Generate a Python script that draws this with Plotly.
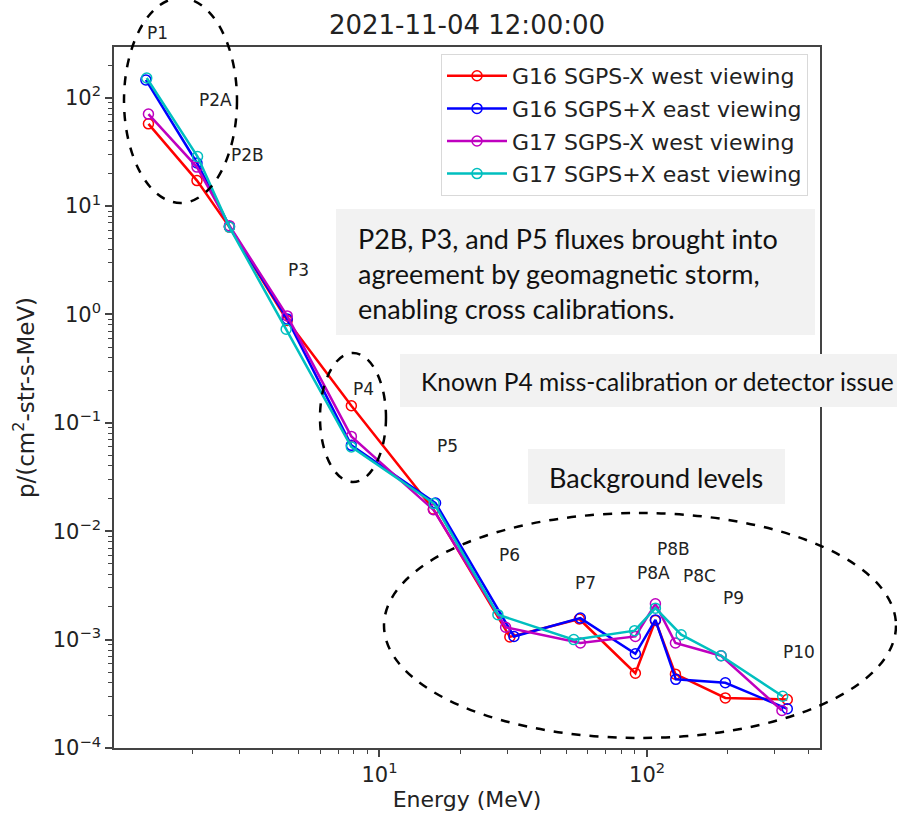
import plotly.graph_objects as go

# ---------------- data ----------------
series_names = [
    "G16 SGPS-X west viewing",
    "G16 SGPS+X east viewing",
    "G17 SGPS-X west viewing",
    "G17 SGPS+X east viewing",
]
series_colors = ["#ff0000", "#0000ff", "#bf00bf", "#00bfbf"]

g16_west_energy = [1.37, 2.08, 2.75, 4.52, 7.85, 15.9, 30.7, 55.8, 90.4, 107.4, 127.6, 196, 334]
g16_west_flux = [57.4, 17.2, 6.4, 0.88, 0.144, 0.0160, 0.00106, 0.00155, 0.00049, 0.00150, 0.00048, 0.00029, 0.00028]

g16_east_energy = [1.34, 2.08, 2.75, 4.52, 7.85, 16.2, 31.8, 56.3, 90.4, 107.4, 128.0, 196, 334]
g16_east_flux = [146, 25.0, 6.5, 0.91, 0.062, 0.0182, 0.00107, 0.00158, 0.00074, 0.00152, 0.00043, 0.00040, 0.00023]

g17_west_energy = [1.37, 2.08, 2.75, 4.52, 7.85, 15.9, 29.6, 56.3, 90.4, 107.4, 127.6, 189, 319]
g17_west_flux = [70.6, 22.9, 6.6, 0.97, 0.075, 0.0158, 0.0013, 0.00093, 0.00107, 0.00214, 0.00093, 0.00071, 0.000222]

g17_east_energy = [1.35, 2.09, 2.75, 4.48, 7.85, 16.0, 27.7, 53.2, 89.8, 107.4, 134.0, 189, 321]
g17_east_flux = [152, 28.7, 6.4, 0.73, 0.060, 0.018, 0.0017, 0.0010, 0.00121, 0.00195, 0.00111, 0.00071, 0.00030]

x_tick_values = [10, 100]
x_tick_labels = ["10<sup>1</sup>", "10<sup>2</sup>"]
y_tick_values = [1e-4, 1e-3, 1e-2, 1e-1, 1e0, 1e1, 1e2]
y_tick_labels = ["10<sup>\u22124</sup>", "10<sup>\u22123</sup>", "10<sup>\u22122</sup>",
                 "10<sup>\u22121</sup>", "10<sup>0</sup>", "10<sup>1</sup>", "10<sup>2</sup>"]

channel_labels = ["P1", "P2A", "P2B", "P3", "P4", "P5", "P6", "P7", "P8B", "P8A", "P8C", "P9", "P10"]

title_text = "2021-11-04 12:00:00"
x_title = "Energy (MeV)"
y_title = "p/(cm<sup>2</sup>-str-s-MeV)"
note_storm = "P2B, P3, and P5 fluxes brought into<br>agreement by geomagnetic storm,<br>enabling cross calibrations."
note_p4 = "Known P4 miss-calibration or detector issue"
note_bg = "Background levels"

# ---------------- layout geometry (pixels) ----------------
W, H = 897, 813
L, R, T, B = 114, 820, 47, 748


def px(x):
    return (x - L) / (R - L)


def py(y):
    return (B - y) / (B - T)


fig = go.Figure()
all_energy = [g16_west_energy, g16_east_energy, g17_west_energy, g17_east_energy]
all_flux = [g16_west_flux, g16_east_flux, g17_west_flux, g17_east_flux]
for i, (name, col, e, f) in enumerate(zip(series_names, series_colors, all_energy, all_flux)):
    fig.add_trace(go.Scatter(
        x=e, y=f, mode="lines+markers", name=name, legendgroup=f"g{i}",
        line=dict(color=col, width=2.5),
        marker=dict(symbol="circle-open", size=10, color=col, line=dict(width=1.5, color=col)),
    ))

# channel label positions (pixel centres)
label_pos = [(157, 33), (215, 100), (247, 155), (298, 270), (363, 389), (447, 446),
             (509, 555), (585, 583), (673, 549), (653, 573), (699, 576), (733, 598), (799, 652)]
annotations = []
for txt, (x, y) in zip(channel_labels, label_pos):
    annotations.append(dict(text=txt, x=px(x), y=py(y), xref="paper", yref="paper",
                            showarrow=False, xanchor="center", yanchor="middle",
                            font=dict(family="DejaVu Sans", size=17, color="#222")))

box_font = "Lato"
annotations.append(dict(text=note_storm, x=px(356), y=py(273), xref="paper", yref="paper",
                        showarrow=False, xanchor="left", yanchor="middle", align="left",
                        font=dict(family=box_font, size=27, color="#111")))
annotations.append(dict(text=note_p4, x=px(419), y=py(381), xref="paper", yref="paper",
                        showarrow=False, xanchor="left", yanchor="middle", align="left",
                        font=dict(family=box_font, size=24.5, color="#111")))
annotations.append(dict(text=note_bg, x=px(656), y=py(477), xref="paper", yref="paper",
                        showarrow=False, xanchor="center", yanchor="middle",
                        font=dict(family=box_font, size=27, color="#111")))

shapes = []
# grey boxes
for (x0, y0, x1, y1) in [(336, 209, 815, 335), (400, 354, 897, 407), (528, 449, 785, 504)]:
    shapes.append(dict(type="rect", xref="paper", yref="paper",
                       x0=px(x0), x1=px(x1), y0=py(y1), y1=py(y0),
                       fillcolor="#f2f2f2", line=dict(width=0), layer="above"))
# dashed ellipses
for (x0, y0, x1, y1) in [(124, -2, 237, 203), (320, 353, 386, 482), (384, 513, 896, 738)]:
    shapes.append(dict(type="circle", xref="paper", yref="paper",
                       x0=px(x0), x1=px(x1), y0=py(y1), y1=py(y0),
                       line=dict(color="black", width=2.5, dash="dash"), layer="above"))

axis_common = dict(
    type="log", showgrid=False, zeroline=False, showline=True, mirror=True,
    linecolor="#444", linewidth=1.5, ticks="outside", ticklen=7, tickwidth=1.5,
    tickcolor="#444", tickfont=dict(family="DejaVu Sans", size=21, color="#222"),
    tickmode="array", automargin=False,
)

x_minor = [k * 10 ** d for d in range(0, 3) for k in range(2, 10)]
y_minor = [k * 10.0 ** d for d in range(-4, 3) for k in range(2, 10)]

fig.update_layout(
    width=W, height=H,
    margin=dict(l=L, r=W - R, t=T, b=H - B, autoexpand=False),
    paper_bgcolor="white", plot_bgcolor="white",
    title=dict(text=title_text, x=px((L + R) / 2), xref="paper", xanchor="center",
               y=1 - 25 / H, yref="container", yanchor="middle",
               font=dict(family="DejaVu Sans", size=26, color="#222")),
    xaxis=dict(axis_common, range=[0.008, 2.646], tickvals=x_tick_values, ticktext=x_tick_labels,
               minor=dict(tickmode="array", tickvals=x_minor, ticks="outside", ticklen=4,
                          tickwidth=1, tickcolor="#444"),
               title=dict(text=x_title, standoff=6,
                          font=dict(family="DejaVu Sans", size=22, color="#222"))),
    yaxis=dict(axis_common, range=[-4, 2.468], tickvals=y_tick_values, ticktext=y_tick_labels,
               minor=dict(tickmode="array", tickvals=y_minor, ticks="outside", ticklen=4,
                          tickwidth=1, tickcolor="#444"),
               title=dict(text=y_title, standoff=12,
                          font=dict(family="DejaVu Sans", size=23, color="#222"))),
    legend=dict(x=px(808), xanchor="right", y=py(54), yanchor="top",
                bgcolor="white", bordercolor="#d9d9d9", borderwidth=1,
                font=dict(family="DejaVu Sans", size=22, color="#222"),
                tracegroupgap=1, itemwidth=60),
    annotations=annotations,
    shapes=shapes,
    showlegend=True,
)

fig.write_html("out.html", config={"displayModeBar": False},
               post_script="document.body.style.margin='0px';")
